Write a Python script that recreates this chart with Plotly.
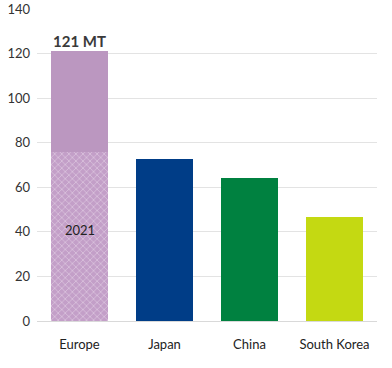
import plotly.graph_objects as go

categories = ["Europe", "Japan", "China", "South Korea"]
europe_2021 = 76
europe_total = 121
other_values = {"Japan": 72.5, "China": 64, "South Korea": 46.5}
tick_vals = [0, 20, 40, 60, 80, 100, 120, 140]
total_label = "121 MT"
base_label = "2021"

colors = {"Europe": "#BB97C0", "Japan": "#003D87", "China": "#008140", "South Korea": "#C4D912"}

fig = go.Figure()
# Europe 2021 (patterned base)
fig.add_trace(go.Bar(
    x=["Europe"], y=[europe_2021],
    marker=dict(color="#D7BEDB", line=dict(width=0),
                pattern=dict(shape="x", fgcolor="#F1E6F2", bgcolor="#C39FC8", size=5, solidity=0.3)),
    width=0.67, showlegend=False, hoverinfo="skip",
))
# Europe remaining + others
top_x = ["Europe"] + list(other_values.keys())
top_y = [europe_total - europe_2021] + list(other_values.values())
fig.add_trace(go.Bar(
    x=top_x, y=top_y,
    marker=dict(color=[colors[c] for c in top_x], line=dict(width=0)),
    width=0.67, showlegend=False,
))

fig.add_annotation(x="Europe", y=europe_total, text=f"<b>{total_label}</b>", showarrow=False,
                   yanchor="bottom", yshift=-1, font=dict(size=15, color="#3A3A3A", family="Lato"))
fig.add_annotation(x="Europe", y=41, text=base_label, showarrow=False,
                   font=dict(size=13, color="#222222", family="Lato"))

fig.update_layout(
    barmode="stack",
    width=392, height=368,
    margin=dict(l=37, r=15, t=9, b=47, autoexpand=False),
    plot_bgcolor="white", paper_bgcolor="white",
    font=dict(family="Lato", size=13, color="#333333"),
    xaxis=dict(categoryorder="array", categoryarray=categories, showgrid=False, automargin=False,
               ticks="", tickfont=dict(size=13, color="#222222"), ticklabelstandoff=14),
    yaxis=dict(range=[0, 140], tickvals=tick_vals, showgrid=True, gridcolor="#E3E3E3", automargin=False,
               gridwidth=1, zeroline=True, zerolinecolor="#D9D9D9", zerolinewidth=1,
               tickfont=dict(size=13, color="#333333"), ticklabelstandoff=6),
)

fig.write_html("out.html", config={"displayModeBar": False},
               post_script="document.body.style.margin='0';document.body.style.overflow='hidden';")
